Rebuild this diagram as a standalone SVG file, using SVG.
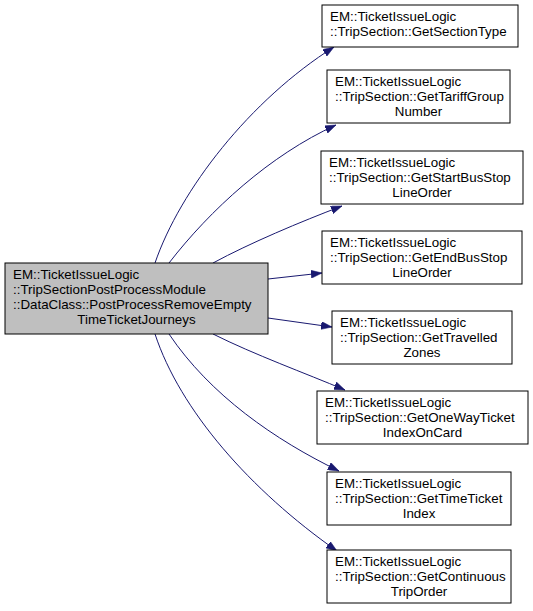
<svg xmlns="http://www.w3.org/2000/svg" width="533" height="611" viewBox="0 0 533 611">
<defs>
<marker id="ah" viewBox="0 0 11 8" refX="11" refY="4" markerWidth="11" markerHeight="8" markerUnits="userSpaceOnUse" orient="auto">
<path d="M0,0 L11,4 L0,8 Z" fill="#191970" stroke="#191970" stroke-width="0.5"/>
</marker>
</defs>
<style>
.n rect{fill:#ffffff;stroke:#000000;stroke-width:1}
.n.root rect{fill:#bfbfbf}
.n text{font-family:"Liberation Sans",Arial,sans-serif;font-size:13.33px;fill:#000000}
.c{text-anchor:middle}
#edges path{fill:none;stroke:#191970;stroke-width:1;marker-end:url(#ah)}
</style>
<rect width="533" height="611" fill="#ffffff"/>
<g id="edges">
<path d="M155,263 C180,190 250,100 334,47"/>
<path d="M169,263 C210,210 270,155 336,125"/>
<path d="M213,263 C250,243 300,222 342,206"/>
<path d="M268,279 L322,273"/>
<path d="M268,318 L332,327"/>
<path d="M213,334 C255,355 305,373 345,390"/>
<path d="M169,334 C210,395 275,440 339,471"/>
<path d="M155,334 C180,410 250,490 337,551"/>
</g>
<g id="root" class="n root">
<rect x="5" y="263" width="263" height="71"/>
<text x="13" y="278.5">EM::TicketIssueLogic</text>
<text x="13" y="293.5">::TripSectionPostProcessModule</text>
<text x="13" y="308.5">::DataClass::PostProcessRemoveEmpty</text>
<text x="136.5" y="323.5" class="c">TimeTicketJourneys</text>
</g>
<g id="n1" class="n">
<rect x="322" y="5" width="196" height="42"/>
<text x="330" y="21">EM::TicketIssueLogic</text>
<text x="330" y="36">::TripSection::GetSectionType</text>
</g>
<g id="n2" class="n">
<rect x="327" y="70" width="183" height="53"/>
<text x="335" y="86">EM::TicketIssueLogic</text>
<text x="335" y="101">::TripSection::GetTariffGroup</text>
<text x="418.5" y="116" class="c">Number</text>
</g>
<g id="n3" class="n">
<rect x="321" y="151" width="202" height="53"/>
<text x="329" y="167">EM::TicketIssueLogic</text>
<text x="329" y="182">::TripSection::GetStartBusStop</text>
<text x="422" y="197" class="c">LineOrder</text>
</g>
<g id="n4" class="n">
<rect x="322" y="231" width="200" height="53"/>
<text x="330" y="247">EM::TicketIssueLogic</text>
<text x="330" y="262">::TripSection::GetEndBusStop</text>
<text x="422" y="277" class="c">LineOrder</text>
</g>
<g id="n5" class="n">
<rect x="332" y="311" width="180" height="53"/>
<text x="340" y="327">EM::TicketIssueLogic</text>
<text x="340" y="342">::TripSection::GetTravelled</text>
<text x="422" y="357" class="c">Zones</text>
</g>
<g id="n6" class="n">
<rect x="317" y="391" width="211" height="53"/>
<text x="325" y="407">EM::TicketIssueLogic</text>
<text x="325" y="422">::TripSection::GetOneWayTicket</text>
<text x="422.5" y="437" class="c">IndexOnCard</text>
</g>
<g id="n7" class="n">
<rect x="327" y="472" width="184" height="53"/>
<text x="335" y="488">EM::TicketIssueLogic</text>
<text x="335" y="503">::TripSection::GetTimeTicket</text>
<text x="419" y="518" class="c">Index</text>
</g>
<g id="n8" class="n">
<rect x="327" y="550" width="184" height="53"/>
<text x="335" y="566">EM::TicketIssueLogic</text>
<text x="335" y="581">::TripSection::GetContinuous</text>
<text x="419" y="596" class="c">TripOrder</text>
</g>
</svg>
